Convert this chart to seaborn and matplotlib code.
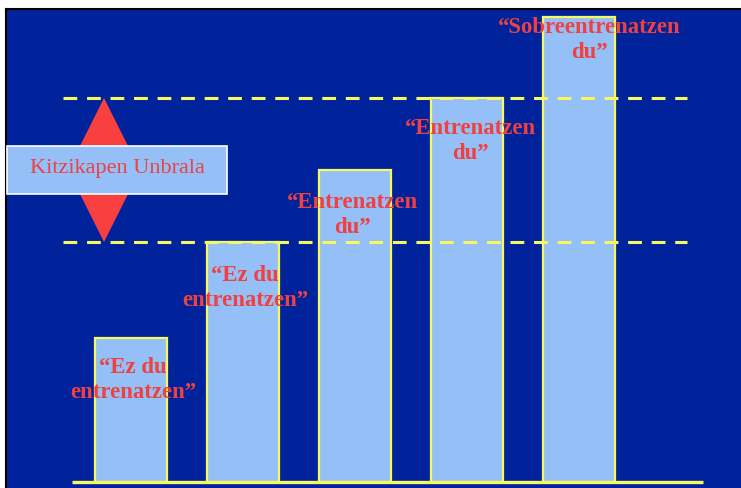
import matplotlib
matplotlib.use("Agg")
import matplotlib.pyplot as plt
import seaborn as sns
import pandas as pd
from matplotlib.patches import Polygon, Rectangle

categories = ["A", "B", "C", "D", "E"]
values = [1.5, 2.5, 3.25, 4.0, 4.84]
labels = ["\u201cEz du\nentrenatzen\u201d", "\u201cEz du\nentrenatzen\u201d",
          "\u201cEntrenatzen\ndu\u201d", "\u201cEntrenatzen\ndu\u201d",
          "\u201cSobreentrenatzen\ndu\u201d"]
label_dy = [-0.435, -0.474, -0.474, -0.453, -0.236]
label_dx = [0.018, 0.018, -0.027, 0.027, 0.089]
thresholds = [2.5, 4.0]
threshold_label = "Kitzikapen Unbrala"

BG = "#00239c"
BAR = "#94bff7"
YEL = "#f8f860"
RED = "#f04040"

sns.set_theme(style="white")
plt.rcParams['font.family'] = ['Liberation Serif', 'DejaVu Serif']

fig = plt.figure(figsize=(7.41, 4.88), dpi=100, facecolor="white")
ax = fig.add_axes([6/741, 0, 735/741, 479/488])
ax.set_facecolor(BG)

df = pd.DataFrame({"cat": categories, "val": values})
sns.barplot(data=df, x="cat", y="val", ax=ax, color=BAR, saturation=1,
            width=0.643, edgecolor=YEL, linewidth=1.6, zorder=2)

ax.set_xlim(-1.116, 5.446)
ax.set_ylim(-0.0625, 4.927)

# baseline
ax.plot([-0.527, 5.107], [0, 0], color=YEL, lw=2.4, zorder=3, solid_capstyle="butt")
# threshold dashed lines
for t in thresholds:
    ax.plot([-0.607, 4.96], [t, t], color=YEL, lw=2.2, ls=(0, (4.5, 3.2)), zorder=3)

# bar labels
for i, (v, lab) in enumerate(zip(values, labels)):
    ax.text(i + label_dx[i], v + label_dy[i], lab, ha="center", va="center",
            color=RED, fontsize=16.4, fontweight="bold", linespacing=1.25, zorder=4)

# threshold indicator
lo, hi = thresholds
mid = (lo + hi) / 2
cx, hw = -0.241, 0.219
ax.add_patch(Polygon([[cx, hi], [cx - hw, mid + 0.24], [cx + hw, mid + 0.24]],
                     closed=True, color="#f84040", zorder=5, lw=0))
ax.add_patch(Polygon([[cx, lo], [cx - hw, mid - 0.24], [cx + hw, mid - 0.24]],
                     closed=True, color="#f84040", zorder=5, lw=0))
ax.add_patch(Rectangle((-1.107, mid - 0.25), 1.964, 0.5, facecolor=BAR,
                       edgecolor="white", lw=1.2, zorder=6))
ax.text((-1.107 + 0.857) / 2, mid + 0.02, threshold_label, ha="center", va="center",
        color=RED, fontsize=16, zorder=7)

ax.set_xticks([])
ax.set_yticks([])
ax.set_xlabel("")
ax.set_ylabel("")
for s in ["right", "bottom"]:
    ax.spines[s].set_visible(False)
for s in ["left", "top"]:
    ax.spines[s].set_visible(True)
    ax.spines[s].set_color("black")
    ax.spines[s].set_linewidth(1.5)

fig.savefig("out.png", dpi=100, facecolor="white")
